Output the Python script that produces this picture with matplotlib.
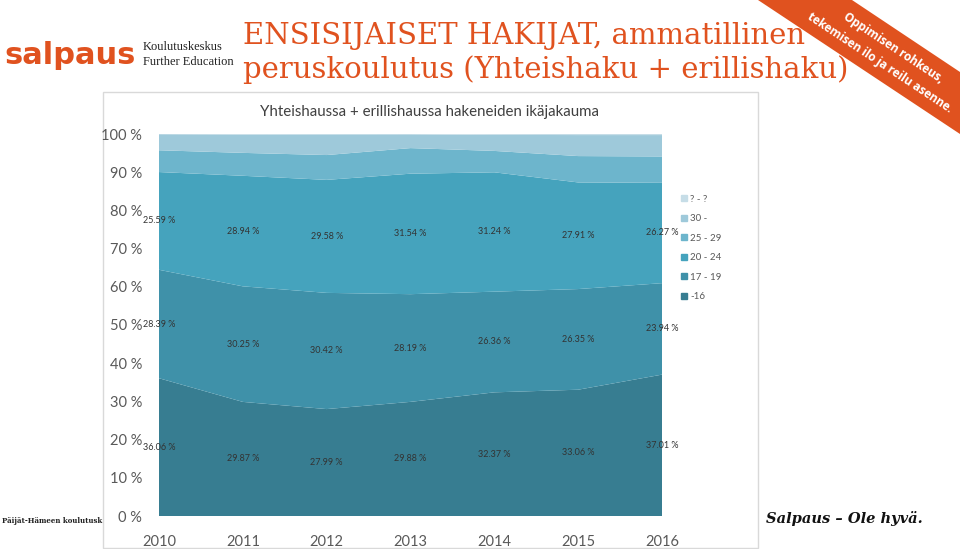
import numpy as np
import matplotlib.pyplot as plt
from matplotlib.patches import Rectangle, Polygon
from matplotlib.lines import Line2D

# data
years = [2010, 2011, 2012, 2013, 2014, 2015, 2016]
age_groups = ["-16", "17 - 19", "20 - 24", "25 - 29", "30 -", "? - ?"]
under16 = [36.06, 29.87, 27.99, 29.88, 32.37, 33.06, 37.01]
age17_19 = [28.39, 30.25, 30.42, 28.19, 26.36, 26.35, 23.94]
age20_24 = [25.59, 28.94, 29.58, 31.54, 31.24, 27.91, 26.27]
age25_29 = [5.7, 6.0, 6.5, 6.7, 5.6, 6.9, 6.9]
age30 = [4.2, 4.8, 5.4, 3.6, 4.2, 5.5, 5.6]
unknown = [0.06, 0.14, 0.12, 0.09, 0.26, 0.28, 0.28]
labelled = [under16, age17_19, age20_24]

colors = ["#377d91", "#3f91a9", "#45a3bd", "#6db5cc", "#9ec9da", "#c6dde7"]
orange = "#e0521f"

W, H = 960, 549
fig = plt.figure(figsize=(W / 100, H / 100), dpi=100)


def fx(x):
    return x / W


def fy(y):
    return 1 - y / H


# slide texts behind the chart box
fig.text(fx(2), fy(521), "Päijät-Hämeen koulutusk", fontsize=5.0, fontweight="bold",
         family="DejaVu Serif", color="#222222", va="center", zorder=1)
fig.text(fx(4), fy(55), "salpaus", fontsize=22, fontweight="heavy", family="DejaVu Sans",
         color=orange, va="center", zorder=1)
fig.text(fx(143), fy(47), "Koulutuskeskus", fontsize=9, family="Liberation Serif",
         color="#222222", va="center", zorder=1)
fig.text(fx(143), fy(62), "Further Education", fontsize=9, family="Liberation Serif",
         color="#222222", va="center", zorder=1)
fig.text(fx(243), fy(36), "ENSISIJAISET HAKIJAT, ammatillinen", fontsize=21,
         family="DejaVu Serif", color=orange, va="center", zorder=1)
fig.text(fx(243), fy(70), "peruskoulutus (Yhteishaku + erillishaku)", fontsize=21,
         family="DejaVu Serif", color=orange, va="center", zorder=1)
fig.text(fx(766), fy(519), "Salpaus – Ole hyvä.", fontsize=10.5, style="italic",
         fontweight="bold", family="DejaVu Serif", color="#111111", va="center", zorder=1)

# orange ribbon
ribbon = Polygon([(fx(758), fy(0)), (fx(852), fy(0)), (fx(960), fy(72)), (fx(960), fy(134))],
                 closed=True, facecolor=orange, edgecolor="none", transform=fig.transFigure,
                 zorder=1)
fig.add_artist(ribbon)
fig.text(fx(893), fy(48), "Oppimisen rohkeus,", fontsize=8.5, fontweight="bold",
         family="Open Sans", color="white", rotation=-33.5, ha="center", va="center",
         rotation_mode="anchor", zorder=2)
fig.text(fx(880), fy(63), "tekemisen ilo ja reilu asenne.", fontsize=8.5, fontweight="bold",
         family="Open Sans", color="white", rotation=-33.5, ha="center", va="center",
         rotation_mode="anchor", zorder=2)

# chart box
box = Rectangle((fx(103), fy(548)), fx(758) - fx(103), fy(92) - fy(548),
                transform=fig.transFigure, facecolor="white", edgecolor="#d9d9d9",
                linewidth=1, zorder=2)
fig.add_artist(box)
fig.text(fx(430), fy(112), "Yhteishaussa + erillishaussa hakeneiden ikäjakauma",
         fontsize=10.8, family="Lato", color="#404040", ha="center", va="center", zorder=3)

ax = fig.add_axes([fx(159), fy(516), fx(662) - fx(159), fy(134) - fy(516)])
ax.set_zorder(3)
ax.patch.set_alpha(0)

series = [under16, age17_19, age20_24, age25_29, age30, unknown]
ax.stackplot(years, *series, colors=colors, edgecolor="none")

# data labels in the middle of the three lowest bands
base = np.zeros(len(years))
for vals in labelled:
    vals = np.array(vals)
    for x, b, v in zip(years, base, vals):
        ax.text(x, b + v / 2, f"{v:.2f} %", fontsize=6.5, family="Lato", color="#333333",
                ha="center", va="center")
    base = base + vals

ax.set_xlim(2010, 2016)
ax.set_ylim(0, 100)
ax.set_xticks(years)
ax.set_xticklabels([str(y) for y in years])
ax.set_yticks(range(0, 101, 10))
ax.set_yticklabels([f"{v} %" for v in range(0, 101, 10)])
ax.tick_params(length=0, labelsize=10.5, labelcolor="#595959", pad=12)
ax.tick_params(axis="x", pad=14)
for lab in ax.get_xticklabels() + ax.get_yticklabels():
    lab.set_family("Lato")
for s in ax.spines.values():
    s.set_visible(False)

handles = [Line2D([], [], marker="s", linestyle="none", markersize=5, color=c)
           for c in colors]
ax.legend(handles[::-1], age_groups[::-1], loc="upper left",
          bbox_to_anchor=(fx(668), fy(186)), bbox_transform=fig.transFigure,
          frameon=False, labelcolor="#595959", handletextpad=0.0, handlelength=1.4,
          labelspacing=1.08, prop={"family": "Lato", "size": 7})

fig.savefig("out.png", dpi=100)
